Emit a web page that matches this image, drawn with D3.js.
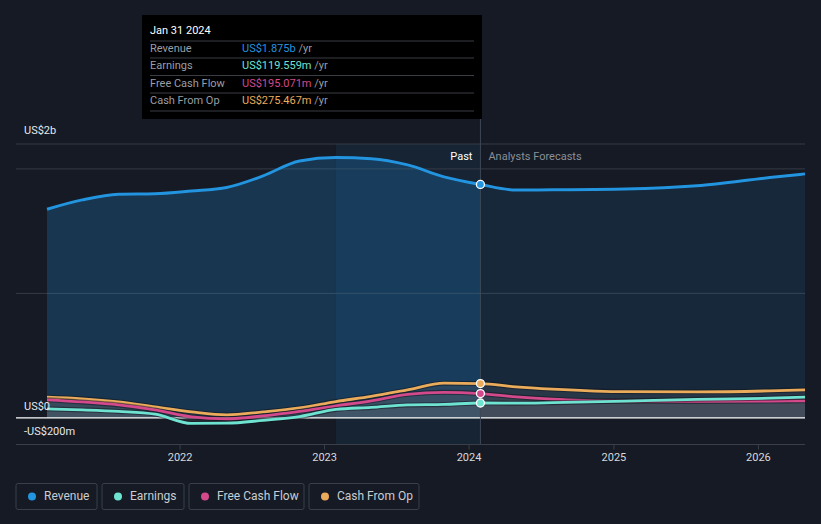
<!DOCTYPE html>
<html>
<head>
<meta charset="utf-8">
<script src="https://cdn.jsdelivr.net/npm/d3@7/dist/d3.min.js"></script>
<style>
  html, body { margin: 0; padding: 0; background: #151a24; }
  svg { display: block; font-family: Roboto, "Noto Sans", sans-serif; }
</style>
</head>
<body>
<svg id="chart" width="821" height="524"></svg>
<script>
const W = 821, H = 524;

// quarterly history, then analyst forecasts (US$ m)
const dates    = ['2021-01-31','2021-04-30','2021-07-31','2021-10-31','2022-01-31','2022-04-30','2022-07-31','2022-10-31',
                  '2023-01-31','2023-04-30','2023-07-31','2023-10-31','2024-01-31',
                  '2024-04-30','2024-07-31','2025-01-31','2025-07-31','2026-01-31','2026-04-30'];
const revenue  = [1676,1751,1797,1801,1823,1851,1944,2064,2091,2082,2032,1936,1875, 1830,1832,1838,1864,1930,1960];
const earnings = [72,64,52,30,-45,-43,-20,10,68,84,104,108,119.559, 118,122,135,149,158,166];
const fcf      = [145,128,104,64,8,-8,16,52,96,137,189,205,195.071, 169,150,135,132,135,137];
const cfo      = [166,153,128,88,48,24,48,80,131,173,225,279,275.467, 249,231,210,209,217,225];

const xTicks = [2022, 2023, 2024, 2025, 2026];
const seriesNames = ['Revenue', 'Earnings', 'Free Cash Flow', 'Cash From Op'];
const tipValues = ['US$1.875b', 'US$119.559m', 'US$195.071m', 'US$275.467m'];
const COLORS = ['#2394df', '#6fe3d1', '#d3498b', '#eaab5b'];

const parse = d3.timeParse('%Y-%m-%d');
const D = dates.map(parse);
const NOW = parse('2024-01-31');
const YEAR_AGO = parse('2023-01-31');

const x = d3.scaleTime().domain([parse('2021-01-31'), parse('2026-04-30')]).range([47, 805]);
const y = d3.scaleLinear().domain([-210, 2200]).range([444, 144]);

const svg = d3.select('#chart');
const plotL = 16, plotR = 805;

// past highlight band (last 12 months)
svg.append('rect')
  .attr('x', x(YEAR_AGO)).attr('y', 144)
  .attr('width', x(NOW) - x(YEAR_AGO)).attr('height', 300)
  .attr('fill', '#2394df').attr('fill-opacity', 0.09);

// gridlines
[2200, 2000, 1000].forEach(v => {
  svg.append('line')
    .attr('x1', plotL).attr('x2', plotR)
    .attr('y1', y(v)).attr('y2', y(v))
    .attr('stroke', '#363c46').attr('stroke-width', 1);
});

// clips for past / forecast
const defs = svg.append('defs');
defs.append('clipPath').attr('id', 'clip-past')
  .append('rect').attr('x', 0).attr('y', 0).attr('width', x(NOW)).attr('height', H);
defs.append('clipPath').attr('id', 'clip-fc')
  .append('rect').attr('x', x(NOW)).attr('y', 0).attr('width', W).attr('height', H);

const allSeries = [revenue, earnings, fcf, cfo];
const mk = vals => vals.map((v, i) => ({ d: D[i], v }));

const area = d3.area().curve(d3.curveMonotoneX)
  .x(p => x(p.d)).y0(y(0)).y1(p => y(p.v));
const line = d3.line().curve(d3.curveMonotoneX)
  .x(p => x(p.d)).y(p => y(p.v));

// revenue area: past brighter than forecast
svg.append('path').datum(mk(revenue))
  .attr('d', area).attr('fill', '#2394df').attr('fill-opacity', 0.23)
  .attr('clip-path', 'url(#clip-past)');
svg.append('path').datum(mk(revenue))
  .attr('d', area).attr('fill', '#2394df').attr('fill-opacity', 0.12)
  .attr('clip-path', 'url(#clip-fc)');

// small series areas, grey layers
[cfo, fcf, earnings].forEach(vals => {
  svg.append('path').datum(mk(vals))
    .attr('d', area).attr('fill', '#6a6e76').attr('fill-opacity', 0.22);
});

// zero line
svg.append('line')
  .attr('x1', plotL).attr('x2', plotR)
  .attr('y1', y(0)).attr('y2', y(0))
  .attr('stroke', '#ffffff').attr('stroke-width', 1.2);

// bottom axis line
svg.append('line')
  .attr('x1', plotL).attr('x2', plotR)
  .attr('y1', 444.5).attr('y2', 444.5)
  .attr('stroke', '#3a404a').attr('stroke-width', 1);

// lines (draw small ones first, revenue on top)
[3, 2, 1, 0].forEach(i => {
  svg.append('path').datum(mk(allSeries[i]))
    .attr('d', line).attr('fill', 'none')
    .attr('stroke', '#10141b').attr('stroke-opacity', 0.5)
    .attr('stroke-width', i === 0 ? 3 : 5);
  svg.append('path').datum(mk(allSeries[i]))
    .attr('d', line).attr('fill', 'none')
    .attr('stroke', COLORS[i]).attr('stroke-width', i === 0 ? 3 : 2.8);
});

// vertical "now" line
svg.append('line')
  .attr('x1', x(NOW)).attr('x2', x(NOW))
  .attr('y1', 119).attr('y2', 444)
  .attr('stroke', '#3d4756').attr('stroke-width', 1);

// Past / Analysts Forecasts
svg.append('text').attr('x', x(NOW) - 8).attr('y', 160)
  .attr('text-anchor', 'end').attr('font-size', 11).attr('fill', '#ffffff').text('Past');
svg.append('text').attr('x', x(NOW) + 8).attr('y', 160)
  .attr('font-size', 11).attr('fill', '#8a8f98').text('Analysts Forecasts');

// markers at current point
const nowIdx = dates.indexOf('2024-01-31');
[0, 3, 2, 1].forEach(i => {
  svg.append('circle')
    .attr('cx', x(NOW)).attr('cy', y(allSeries[i][nowIdx]))
    .attr('r', 4).attr('fill', COLORS[i])
    .attr('stroke', '#ffffff').attr('stroke-width', 1.3);
});

// y labels
const yLab = [[2200, 'US$2b', -13], [0, 'US$0', -11], [-210, '-US$200m', -12]];
yLab.forEach(([v, t, dy]) => {
  svg.append('text').attr('x', 24).attr('y', y(v) + dy)
    .attr('dominant-baseline', 'middle')
    .attr('font-size', 11).attr('fill', '#e6e8eb').text(t);
});

// x axis
const xAxis = d3.axisBottom(x)
  .tickValues(xTicks.map(yv => new Date(yv, 0, 1)))
  .tickFormat(d3.timeFormat('%Y'))
  .tickSize(5).tickPadding(4);
const gx = svg.append('g').attr('transform', 'translate(0,444.5)').call(xAxis);
gx.select('.domain').remove();
gx.selectAll('line').attr('stroke', '#3a404a');
gx.selectAll('text').attr('fill', '#d6d9dd').attr('font-size', 11)
  .attr('font-family', 'Roboto, "Noto Sans", sans-serif');

// tooltip
const tip = svg.append('g');
tip.append('rect').attr('x', 142).attr('y', 15).attr('width', 340).attr('height', 104)
  .attr('fill', '#000000');
tip.append('text').attr('x', 150).attr('y', 31).attr('dominant-baseline', 'middle')
  .attr('font-size', 11).attr('fill', '#ffffff').text('Jan 31 2024');
const rowY = [49, 66, 84, 101];
const sepY = [41, 58, 75.5, 93, 111];
sepY.forEach(sy => {
  tip.append('line').attr('x1', 150).attr('x2', 474).attr('y1', sy).attr('y2', sy)
    .attr('stroke', '#3a3d42').attr('stroke-width', 1);
});
seriesNames.forEach((n, i) => {
  tip.append('text').attr('x', 150).attr('y', rowY[i]).attr('dominant-baseline', 'middle')
    .attr('font-size', 11).attr('fill', '#9a9ea4').text(n);
  const t = tip.append('text').attr('x', 242).attr('y', rowY[i]).attr('dominant-baseline', 'middle')
    .attr('font-size', 11);
  t.append('tspan').attr('fill', COLORS[i]).text(tipValues[i]);
  t.append('tspan').attr('fill', '#9a9ea4').text(' /yr');
});

// legend
const legW = [81, 82, 115, 110];
let lx = 16;
seriesNames.forEach((n, i) => {
  const g = svg.append('g').attr('transform', `translate(${lx},483.5)`);
  g.append('rect').attr('width', legW[i]).attr('height', 26).attr('rx', 2)
    .attr('fill', 'none').attr('stroke', '#3a404a');
  g.append('circle').attr('cx', 16).attr('cy', 13).attr('r', 4).attr('fill', COLORS[i]);
  g.append('text').attr('x', 28).attr('y', 13.5).attr('dominant-baseline', 'middle')
    .attr('font-size', 12).attr('fill', '#c9cdd2').text(n);
  lx += legW[i] + 5;
});
</script>
</body>
</html>
